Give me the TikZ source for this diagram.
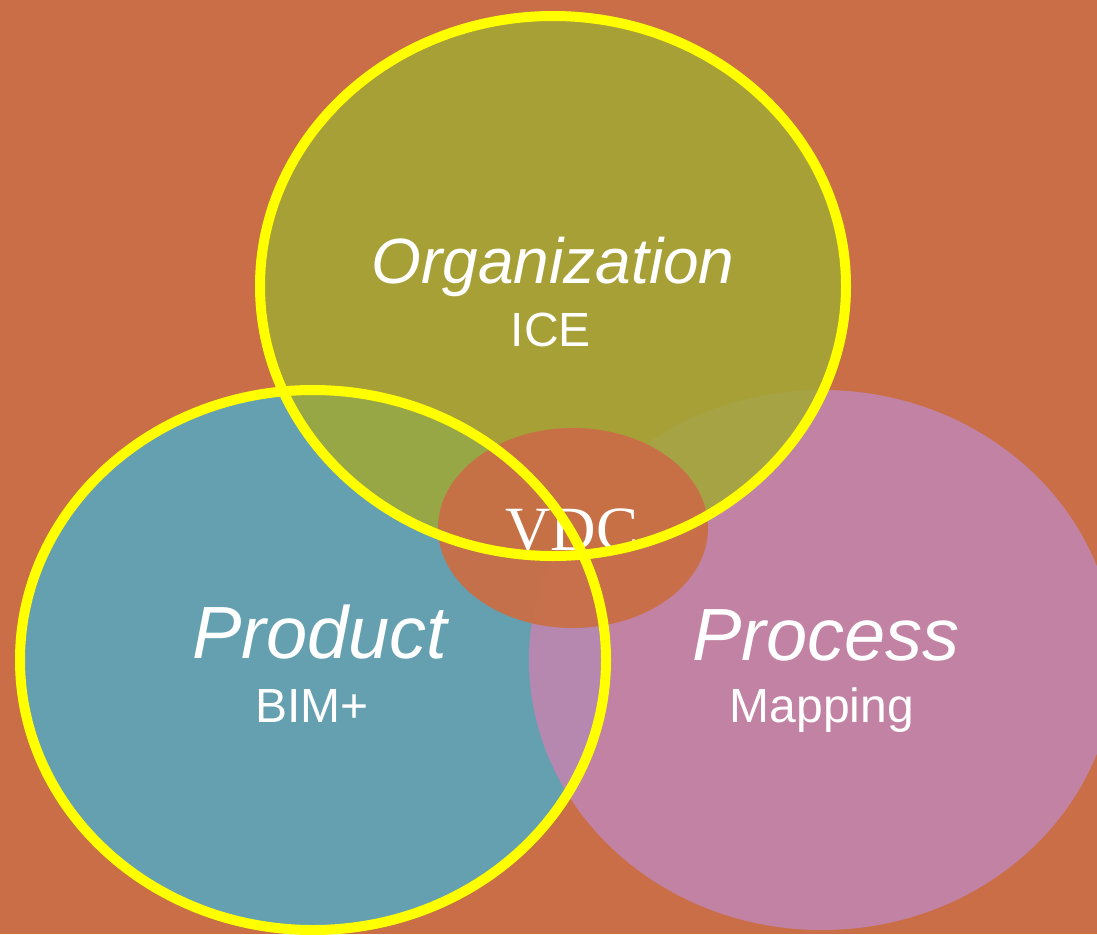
\documentclass[tikz,border=0pt]{standalone}
\usepackage{fontspec}
\setmainfont{Liberation Sans}
\newfontfamily\vdcfont{Liberation Serif}
\usepackage{xcolor}
\definecolor{vennBack}{RGB}{201, 110, 70}
\definecolor{vennOlive}{RGB}{162, 169, 52}
\definecolor{vennTeal}{RGB}{100, 160, 175}
\definecolor{vennPink}{RGB}{194, 133, 176}
\definecolor{vennRing}{RGB}{255, 255, 0}

\begin{document}
\begin{tikzpicture}[x=1pt, y=-1pt,
    ring/.style={draw=vennRing, line width=10pt},
    title/.style={text=white, inner sep=0pt, anchor=base, font=\itshape\fontsize{74}{74}\selectfont},
    subtitle/.style={text=white, inner sep=0pt, anchor=base, font=\fontsize{48}{48}\selectfont}]
            \useasboundingbox (0,0) rectangle (1097,934);
            \clip (0,0) rectangle (1097,934);
            \fill[vennBack] (0,0) rectangle (1097,934);

            % Centres
            \coordinate (org) at (553,286);
            \coordinate (prod) at (313,660);
            \coordinate (proc) at (822,660);
            \coordinate (vdc) at (573,528);

            % Circles
            \fill[vennTeal] (prod) ellipse [x radius=293pt, y radius=270pt];
            \fill[vennPink, fill opacity=0.88] (proc) ellipse [x radius=293pt, y radius=270pt];
            \fill[vennOlive, fill opacity=0.85] (org) ellipse [x radius=293pt, y radius=270pt];

            % Core
            \fill[vennBack, fill opacity=0.95] (vdc) ellipse [x radius=135pt, y radius=100pt];
            \node[text=white, inner sep=0pt, anchor=base, font=\vdcfont\fontsize{63}{63}\selectfont] (vdclabel) at (572,550) {VDC};

            % Rings
            \draw[ring] (org) ellipse [x radius=293pt, y radius=270pt];
            \draw[ring] (prod) ellipse [x radius=293pt, y radius=270pt];

            % Labels
            \node[title, font=\itshape\fontsize{64}{64}\selectfont] (orgtitle) at (553,283) {Organization};
            \node[subtitle] (orgsub) at (551,346) {ICE};
            \node[title] (prodtitle) at (320,658) {Product};
            \node[subtitle] (prodsub) at (312,722) {BIM+};
            \node[title] (proctitle) at (826,660) {Process};
            \node[subtitle] (procsub) at (822,722) {Mapping};
        \end{tikzpicture}
\end{document}
